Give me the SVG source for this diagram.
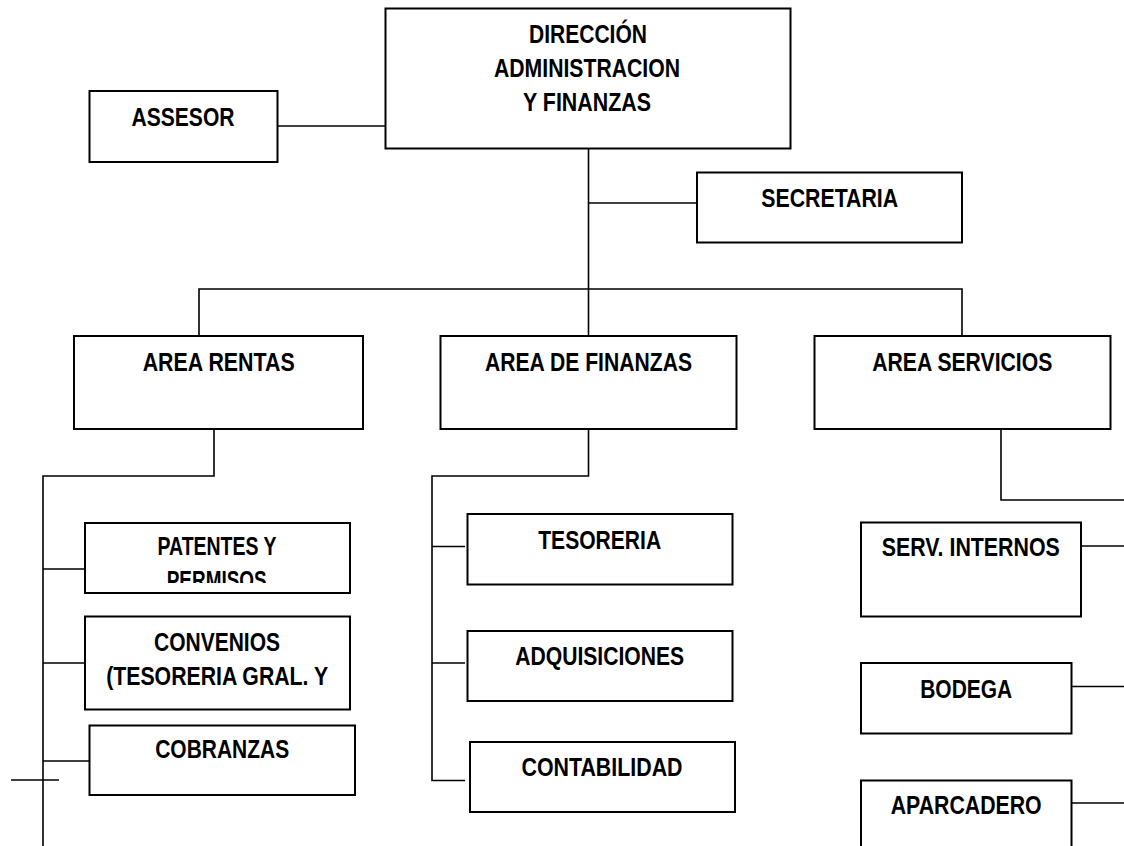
<svg xmlns="http://www.w3.org/2000/svg" width="1124" height="846" viewBox="0 0 1124 846">
<style>
.box{fill:#fff;stroke:#000;stroke-width:2}
.ln{fill:none;stroke:#000;stroke-width:1.6}
text{font-family:"Liberation Sans Narrow","Liberation Sans",Arial,sans-serif;font-weight:bold;font-size:25px;fill:#000;text-anchor:middle}
</style>
<defs>
<clipPath id="clipPat"><rect x="86" y="524" width="263" height="59"/></clipPath>
</defs>
<rect width="1124" height="846" fill="#fff"/>
<g id="connectors">
<path class="ln" d="M277.5 126H385.5"/>
<path class="ln" d="M588.5 148.5V336"/>
<path class="ln" d="M588.5 203H697"/>
<path class="ln" d="M199 336V289H962V336"/>
<path class="ln" d="M214 429V476H43V846"/>
<path class="ln" d="M43 569H91"/>
<path class="ln" d="M43 663H91"/>
<path class="ln" d="M43 761H89.5"/>
<path class="ln" d="M11 780H59"/>
<path class="ln" d="M588.5 429V476H432V780.5H465"/>
<path class="ln" d="M432 546.5H465"/>
<path class="ln" d="M432 663H465"/>
<path class="ln" d="M1001 429V500H1124"/>
<path class="ln" d="M1081 546H1124"/>
<path class="ln" d="M1071.5 686.5H1124"/>
<path class="ln" d="M1071.5 803H1124"/>
</g>
<g id="assesor"><rect class="box" x="89.5" y="91" width="188" height="71"/><text x="183" y="126" textLength="103" lengthAdjust="spacingAndGlyphs">ASSESOR</text></g>
<g id="direccion"><rect class="box" x="385.5" y="8.5" width="405" height="140"/>
<text x="588" y="42.7" textLength="118" lengthAdjust="spacingAndGlyphs">DIRECCIÓN</text>
<text x="587" y="77.3" textLength="186" lengthAdjust="spacingAndGlyphs">ADMINISTRACION</text>
<text x="587" y="111" textLength="128" lengthAdjust="spacingAndGlyphs">Y FINANZAS</text></g>
<g id="secretaria"><rect class="box" x="697" y="172.5" width="265" height="70"/><text x="829.7" y="206.7" textLength="137" lengthAdjust="spacingAndGlyphs">SECRETARIA</text></g>
<g id="area-rentas"><rect class="box" x="74" y="336" width="289" height="93"/><text x="218.7" y="371" textLength="152" lengthAdjust="spacingAndGlyphs">AREA RENTAS</text></g>
<g id="area-finanzas"><rect class="box" x="440.5" y="336" width="296" height="93"/><text x="588.5" y="371" textLength="207" lengthAdjust="spacingAndGlyphs">AREA DE FINANZAS</text></g>
<g id="area-servicios"><rect class="box" x="814.5" y="336" width="296" height="93"/><text x="962.3" y="371" textLength="180" lengthAdjust="spacingAndGlyphs">AREA SERVICIOS</text></g>
<g id="patentes"><rect class="box" x="85" y="523" width="265" height="70"/>
<text x="217" y="554.7" textLength="119" lengthAdjust="spacingAndGlyphs">PATENTES Y</text>
<text x="216.7" y="588.5" textLength="100" lengthAdjust="spacingAndGlyphs" clip-path="url(#clipPat)">PERMISOS</text></g>
<g id="convenios"><rect class="box" x="85" y="616.5" width="265" height="93"/>
<text x="217" y="651.3" textLength="126" lengthAdjust="spacingAndGlyphs">CONVENIOS</text>
<text x="217.2" y="685.3" textLength="222" lengthAdjust="spacingAndGlyphs">(TESORERIA GRAL. Y</text></g>
<g id="cobranzas"><rect class="box" x="89.5" y="725.5" width="265.5" height="69.5"/><text x="222.2" y="758" textLength="134" lengthAdjust="spacingAndGlyphs">COBRANZAS</text></g>
<g id="tesoreria"><rect class="box" x="467.5" y="514" width="265" height="70.5"/><text x="599.7" y="549" textLength="123" lengthAdjust="spacingAndGlyphs">TESORERIA</text></g>
<g id="adquisiciones"><rect class="box" x="467.5" y="631" width="265" height="70"/><text x="599.7" y="665" textLength="169" lengthAdjust="spacingAndGlyphs">ADQUISICIONES</text></g>
<g id="contabilidad"><rect class="box" x="470" y="742" width="265" height="70"/><text x="602" y="776.3" textLength="161" lengthAdjust="spacingAndGlyphs">CONTABILIDAD</text></g>
<g id="serv-internos"><rect class="box" x="861" y="522.5" width="220" height="94"/><text x="970.8" y="556.3" textLength="178" lengthAdjust="spacingAndGlyphs">SERV. INTERNOS</text></g>
<g id="bodega"><rect class="box" x="861" y="663" width="210.5" height="70.5"/><text x="966.2" y="697.7" textLength="92" lengthAdjust="spacingAndGlyphs">BODEGA</text></g>
<g id="aparcadero"><rect class="box" x="861" y="780.5" width="210.5" height="80"/><text x="966.2" y="814" textLength="151" lengthAdjust="spacingAndGlyphs">APARCADERO</text></g>
</svg>
